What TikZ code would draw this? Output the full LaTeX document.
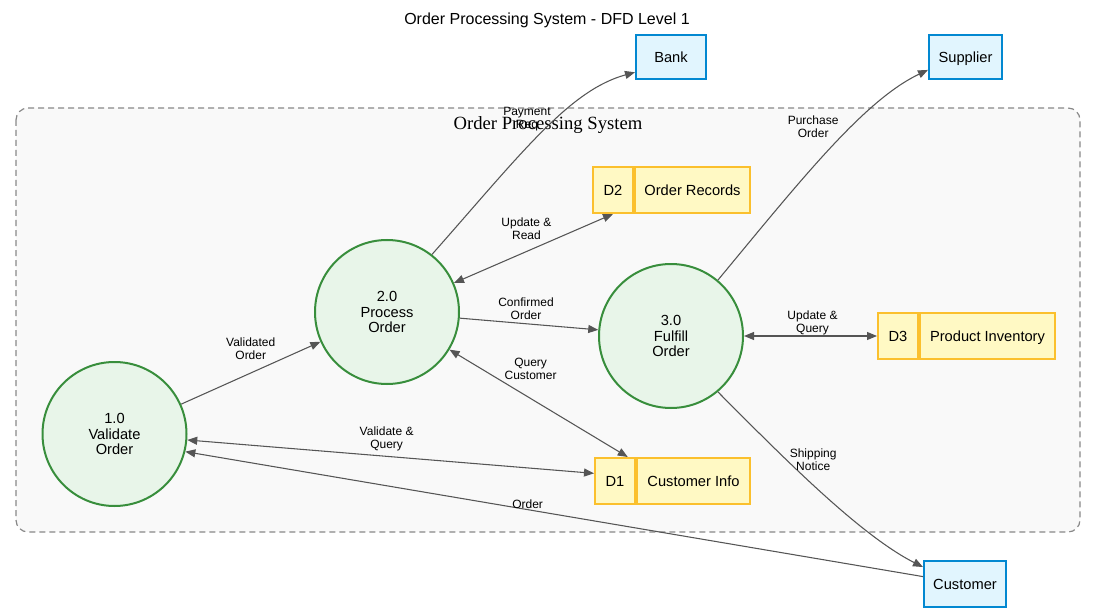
\documentclass[tikz,border=0pt]{standalone}
\usepackage{fontspec}
\setmainfont{Liberation Sans}
\newfontfamily\clserif{Liberation Serif}
\usetikzlibrary{arrows.meta,calc}
\definecolor{procfill}{HTML}{E8F5E9}
\definecolor{procdraw}{HTML}{388E3C}
\definecolor{extfill}{HTML}{E1F5FE}
\definecolor{extdraw}{HTML}{0288D1}
\definecolor{storefill}{HTML}{FFF9C4}
\definecolor{storedraw}{HTML}{FBC02D}
\definecolor{clfill}{HTML}{F9F9F9}
\definecolor{cldraw}{HTML}{888888}
\definecolor{edgecol}{HTML}{555555}
\begin{document}
\begin{tikzpicture}[x=0.75pt,y=-0.75pt,
  proc/.style={circle, draw=procdraw, fill=procfill, line width=1.5pt, minimum size=108pt, inner sep=0pt, align=center, font=\fontsize{11}{11.5}\selectfont},
  ext/.style={rectangle, draw=extdraw, fill=extfill, line width=1.5pt, minimum height=33pt, inner sep=0pt, text height=7.9pt, text depth=0pt, font=\fontsize{11}{13}\selectfont},
  storeid/.style={rectangle, draw=storedraw, fill=storefill, line width=1.5pt, minimum width=30pt, minimum height=34.5pt, inner sep=0pt, text height=7.9pt, text depth=0pt, font=\fontsize{11}{13}\selectfont},
  storename/.style={storeid, anchor=west},
  flow/.style={draw=edgecol, line width=0.8pt, -{Triangle[length=7.5pt,width=6pt]}},
  biflow/.style={flow, {Triangle[length=7.5pt,width=6pt]}-{Triangle[length=7.5pt,width=6pt]}},
  lbl/.style={font=\fontsize{9}{9.75}\selectfont, align=center, text=black, inner sep=0pt},
  cluster/.style={draw=cldraw, fill=clfill, dash pattern=on 4.5pt off 3pt, rounded corners=9pt, line width=0.9pt},
]
\useasboundingbox (0,0) rectangle (1096,613);

% title
\node[font=\fontsize{12}{14}\selectfont] (title) at (547,20) {Order Processing System - DFD Level 1};

% cluster
\draw[cluster] (16,108) rectangle (1080,532);
\node[font=\clserif\fontsize{14}{16}\selectfont] (cltitle) at (548,125) {Order Processing System};

% processes
\node[proc] (p1) at (114.5,434) {1.0\\Validate\\Order};
\node[proc] (p2) at (387,312) {2.0\\Process\\Order};
\node[proc] (p3) at (671,336) {3.0\\Fulfill\\Order};

% external entities
\node[ext, minimum width=52.5pt] (bank) at (671,57) {Bank};
\node[ext, minimum width=54.75pt] (supplier) at (965.5,57) {Supplier};
\node[ext, minimum width=61.5pt, minimum height=34.5pt] (customer) at (965,584) {Customer};

% data stores
\node[storeid] (d2id) at (613,190) {D2};
\node[storename, minimum width=86.25pt] (d2) at (d2id.east) {Order Records};
\node[storeid] (d3id) at (898,336) {D3};
\node[storename, minimum width=101.25pt] (d3) at (d3id.east) {Product Inventory};
\node[storeid] (d1id) at (615,481) {D1};
\node[storename, minimum width=84.75pt] (d1) at (d1id.east) {Customer Info};

% flows
\draw[flow] (p1) -- node[lbl, pos=0.5, shift={(0,-24)}] {Validated\\Order} (p2);
\draw[flow] (p2) -- node[lbl, pos=0.5, shift={(-3,-15)}] {Confirmed\\Order} (p3);
\draw[biflow] (p2) -- node[lbl, pos=0.5, shift={(-7,-20)}] {Update \&\\Read} (d2id.south);
\draw[biflow] (p2) -- node[lbl, pos=0.5, shift={(-8,-34)}] {Query\\Customer} (d1id.62);
\draw[biflow] (p3) -- node[lbl, pos=0.5, shift={(2,-13)}] {Update \&\\Query} (d3id);
\draw[biflow] (p1) -- node[lbl, pos=0.5, shift={(-4,-18)}] {Validate \&\\Query} (d1id.160);
\draw[flow] (customer.170) -- node[lbl, pos=0.536, shift={(0,-5)}] {Order} (p1.-14);
\draw[flow] (p2.52) .. controls +(88.7,-100.3) and +(-66,18) .. node[lbl, pos=0.5, shift={(-15,-13)}] {Payment\\Req} (bank.-157);
\draw[flow] (p3.50.5) .. controls +(83.2,-100.4) and +(-64,30.4) .. node[lbl, pos=0.5, shift={(-17,-22)}] {Purchase\\Order} (supplier.-161);
\draw[flow] (p3.-50.5) .. controls +(63.2,63.4) and +(-64,-32.4) .. node[lbl, pos=0.5, shift={(-7,-31)}] {Shipping\\Notice} (customer.158);
\end{tikzpicture}
\end{document}
